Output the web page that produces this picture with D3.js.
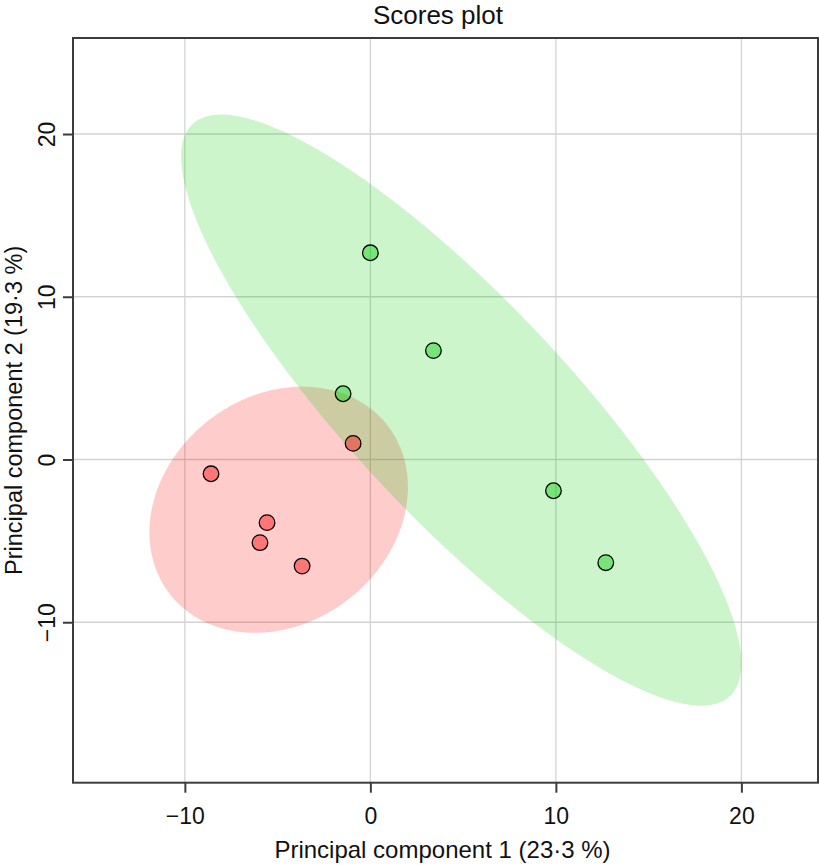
<!DOCTYPE html>
<html>
<head>
<meta charset="utf-8">
<script src="https://cdn.jsdelivr.net/npm/d3@7"></script>
<style>
  html, body { margin: 0; padding: 0; background: #fff; }
  svg { display: block; font-family: "Liberation Sans", Arial, Helvetica, sans-serif; }
</style>
</head>
<body>
<svg id="chart" width="819" height="865"></svg>
<script>
// ---- data ----
const titleText = "Scores plot";
const xLabel = "Principal component 1 (23·3 %)";
const yLabel = "Principal component 2 (19·3 %)";

const groupNames = ["red", "green"];
const redX = [-0.93, -8.59, -5.57, -5.95, -3.68];
const redY = [0.99, -0.88, -3.88, -5.11, -6.55];
const greenX = [0.0, 3.40, -1.47, 9.87, 12.69];
const greenY = [12.70, 6.69, 4.04, -1.92, -6.34];

const xTicks = [-10, 0, 10, 20];
const yTicks = [-10, 0, 10, 20];
const xDomain = [-16.03, 24.13];
const yDomain = [-19.86, 25.9];
const chi2_95 = 5.991; // 95% data ellipse

// ---- layout ----
const svg = d3.select("#chart");
const L = 73, R = 818, T = 38, B = 782.7;
const x = d3.scaleLinear().domain(xDomain).range([L, R]);
const y = d3.scaleLinear().domain(yDomain).range([B, T]);

const groups = [
  {xs: redX, ys: redY, ell: "rgba(255,0,0,0.2)", pt: "rgba(255,0,0,0.42)"},
  {xs: greenX, ys: greenY, ell: "rgba(0,205,0,0.2)", pt: "rgba(0,205,0,0.42)"}
];

// clip
svg.append("defs").append("clipPath").attr("id", "clip")
  .append("rect").attr("x", L).attr("y", T).attr("width", R - L).attr("height", B - T);

// grid
const grid = svg.append("g").attr("clip-path", "url(#clip)");
grid.selectAll("line.gx").data(xTicks).join("line")
  .attr("x1", d => x(d)).attr("x2", d => x(d)).attr("y1", T).attr("y2", B)
  .attr("stroke", "#d3d3d3").attr("stroke-width", 1.3);
grid.selectAll("line.gy").data(yTicks).join("line")
  .attr("y1", d => y(d)).attr("y2", d => y(d)).attr("x1", L).attr("x2", R)
  .attr("stroke", "#d3d3d3").attr("stroke-width", 1.3);

// ellipses
function ellipsePts(xs, ys) {
  const n = xs.length;
  const mx = d3.mean(xs), my = d3.mean(ys);
  let sxx = 0, syy = 0, sxy = 0;
  for (let i = 0; i < n; i++) {
    sxx += (xs[i] - mx) ** 2; syy += (ys[i] - my) ** 2; sxy += (xs[i] - mx) * (ys[i] - my);
  }
  sxx = sxx / (n - 1) * chi2_95; syy = syy / (n - 1) * chi2_95; sxy = sxy / (n - 1) * chi2_95;
  const l11 = Math.sqrt(sxx), l21 = sxy / l11, l22 = Math.sqrt(syy - l21 * l21);
  return d3.range(0, 360, 1).map(a => {
    const t = a * Math.PI / 180, c = Math.cos(t), s = Math.sin(t);
    return [mx + l11 * c, my + l21 * c + l22 * s];
  });
}
const line = d3.line().x(d => x(d[0])).y(d => y(d[1])).curve(d3.curveLinearClosed);
const ellG = svg.append("g").attr("clip-path", "url(#clip)");
groups.forEach(g => {
  ellG.append("path").attr("d", line(ellipsePts(g.xs, g.ys))).attr("fill", g.ell).attr("stroke", "none");
});

// points
groups.forEach(g => {
  svg.append("g").selectAll("circle").data(d3.range(g.xs.length)).join("circle")
    .attr("cx", i => x(g.xs[i])).attr("cy", i => y(g.ys[i])).attr("r", 7.8)
    .attr("fill", g.pt).attr("stroke", "#000").attr("stroke-width", 1.3);
});

// frame
svg.append("rect").attr("x", L).attr("y", T).attr("width", R - L).attr("height", B - T)
  .attr("fill", "none").attr("stroke", "#3c3c3c").attr("stroke-width", 2);

// axes
const xAxis = svg.append("g").attr("transform", `translate(0,${B})`)
  .call(d3.axisBottom(x).tickValues(xTicks).tickSize(10).tickSizeOuter(0).tickFormat(d => d < 0 ? "\u2212" + Math.abs(d) : d));
xAxis.select(".domain").remove();
xAxis.selectAll(".tick line").attr("stroke", "#3c3c3c").attr("stroke-width", 2);
xAxis.selectAll(".tick text").attr("y", 41.3).attr("dy", null)
  .attr("font-size", 23).attr("fill", "#111").attr("font-family", "Liberation Sans, Arial, sans-serif");

const yAxis = svg.append("g").attr("transform", `translate(${L},0)`)
  .call(d3.axisLeft(y).tickValues(yTicks).tickSize(10).tickSizeOuter(0).tickFormat(d => d < 0 ? "\u2212" + Math.abs(d) : d));
yAxis.select(".domain").remove();
yAxis.selectAll(".tick line").attr("stroke", "#3c3c3c").attr("stroke-width", 2);
yAxis.selectAll(".tick text").attr("x", null).attr("dy", null)
  .attr("transform", "translate(-18,0) rotate(-90)").attr("text-anchor", "middle")
  .attr("font-size", 23).attr("fill", "#111").attr("font-family", "Liberation Sans, Arial, sans-serif");

// title & labels
svg.append("text").attr("x", 438).attr("y", 23.5).attr("text-anchor", "middle")
  .attr("font-size", 26).attr("fill", "#111").text(titleText);
svg.append("text").attr("x", (L + R) / 2 - 3).attr("y", 858).attr("text-anchor", "middle")
  .attr("font-size", 24).attr("fill", "#111").text(xLabel);
svg.append("text").attr("transform", `translate(22,${(T + B) / 2}) rotate(-90)`).attr("text-anchor", "middle")
  .attr("font-size", 23.5).attr("fill", "#111").text(yLabel);
</script>
</body>
</html>
